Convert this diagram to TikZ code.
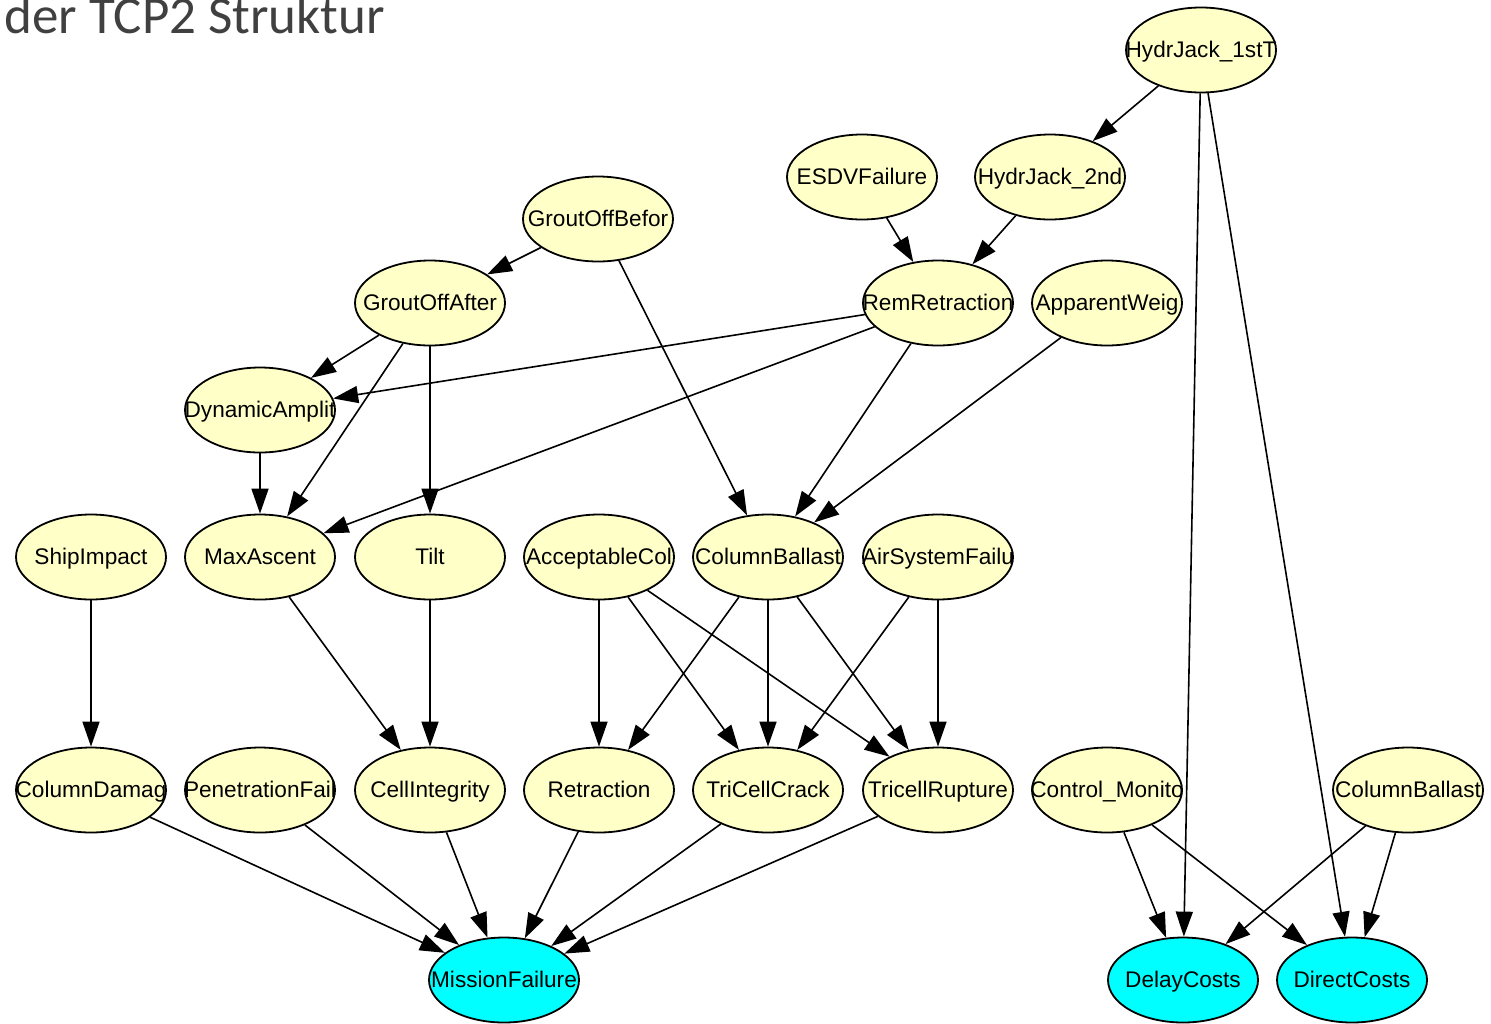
\documentclass[tikz,border=0pt]{standalone}
\usepackage{fontspec}
\setmainfont{Liberation Sans}
\newfontfamily\titlefont{Carlito}
\usetikzlibrary{shapes,arrows.meta,positioning}

\definecolor{chanceyellow}{RGB}{255,255,200}
\definecolor{costcyan}{RGB}{0,255,255}
\definecolor{titlegray}{RGB}{64,64,64}
\newcommand{\lbl}[1]{\makebox[0pt]{#1}}

\begin{document}
\begin{tikzpicture}[x=0.5pt, y=-0.5pt,
        chance/.style={draw, ellipse, fill=chanceyellow, line width=0.9pt, minimum width=75pt, minimum height=42.5pt, inner sep=0pt, text height=8.5pt, text depth=1.5pt, font=\fontsize{11.3}{13}\selectfont},
        cost/.style={chance, fill=costcyan},
        link/.style={->, line width=0.8pt},
        >={Triangle[length=12.5pt, width=8.5pt]}
    ]
        \useasboundingbox (0,0) rectangle (1491,1023);
        \node [anchor=base west, inner sep=0pt, text=titlegray, font=\titlefont\fontsize{26.5}{30}\selectfont] (title) at (4,33) {der TCP2 Struktur};

        \node [chance] (hj1) at (1201,50) {\lbl{HydrJack\_1stT}};
        \node [chance] (esdv) at (862,177) {\lbl{ESDVFailure}};
        \node [chance] (hj2) at (1050,177) {\lbl{HydrJack\_2nd}};
        \node [chance] (gbefore) at (598,219) {\lbl{GroutOffBefor}};
        \node [chance] (gafter) at (430,303) {\lbl{GroutOffAfter}};
        \node [chance] (remret) at (938,303) {\lbl{RemRetraction}};
        \node [chance] (appw) at (1107,303) {\lbl{ApparentWeig}};
        \node [chance] (dynamp) at (260,410) {\lbl{DynamicAmplit}};

        \node [chance] (ship) at (91,557) {\lbl{ShipImpact}};
        \node [chance] (maxasc) at (260,557) {\lbl{MaxAscent}};
        \node [chance] (tilt) at (430,557) {\lbl{Tilt}};
        \node [chance] (acccol) at (599,557) {\lbl{AcceptableCol}};
        \node [chance] (colbal) at (768,557) {\lbl{ColumnBallast}};
        \node [chance] (airsys) at (938,557) {\lbl{AirSystemFailu}};

        \node [chance] (coldam) at (91,790) {\lbl{ColumnDamag}};
        \node [chance] (penfail) at (260,790) {\lbl{PenetrationFail}};
        \node [chance] (cellint) at (430,790) {\lbl{CellIntegrity}};
        \node [chance] (retr) at (599,790) {\lbl{Retraction}};
        \node [chance] (tricrack) at (768,790) {\lbl{TriCellCrack}};
        \node [chance] (trirupt) at (938,790) {\lbl{TricellRupture}};
        \node [chance] (ctrl) at (1107,790) {\lbl{Control\_Monito}};
        \node [chance] (colbaltwo) at (1408,790) {\lbl{ColumnBallast}};

        \node [cost] (mission) at (504,980) {\lbl{MissionFailure}};
        \node [cost] (delay) at (1183,980) {\lbl{DelayCosts}};
        \node [cost] (direct) at (1352,980) {\lbl{DirectCosts}};

        \draw [link] (hj1) -- (hj2);
        \draw [link] (hj1) -- (delay);
        \draw [link] (hj1) -- (direct);
        \draw [link] (esdv) -- (remret);
        \draw [link] (hj2) -- (remret);
        \draw [link] (gbefore) -- (gafter);
        \draw [link] (gbefore) -- (colbal);
        \draw [link] (gafter) -- (dynamp);
        \draw [link] (gafter) -- (maxasc);
        \draw [link] (gafter) -- (tilt);
        \draw [link] (remret) -- (dynamp);
        \draw [link] (remret) -- (maxasc);
        \draw [link] (remret) -- (colbal);
        \draw [link] (appw) -- (colbal);
        \draw [link] (dynamp) -- (maxasc);

        \draw [link] (ship) -- (coldam);
        \draw [link] (maxasc) -- (cellint);
        \draw [link] (tilt) -- (cellint);
        \draw [link] (acccol) -- (retr);
        \draw [link] (acccol) -- (tricrack);
        \draw [link] (acccol) -- (trirupt);
        \draw [link] (colbal) -- (retr);
        \draw [link] (colbal) -- (tricrack);
        \draw [link] (colbal) -- (trirupt);
        \draw [link] (airsys) -- (tricrack);
        \draw [link] (airsys) -- (trirupt);

        \draw [link] (coldam) -- (mission);
        \draw [link] (penfail) -- (mission);
        \draw [link] (cellint) -- (mission);
        \draw [link] (retr) -- (mission);
        \draw [link] (tricrack) -- (mission);
        \draw [link] (trirupt) -- (mission);
        \draw [link] (ctrl) -- (delay);
        \draw [link] (ctrl) -- (direct);
        \draw [link] (colbaltwo) -- (delay);
        \draw [link] (colbaltwo) -- (direct);

    \end{tikzpicture}
\end{document}
